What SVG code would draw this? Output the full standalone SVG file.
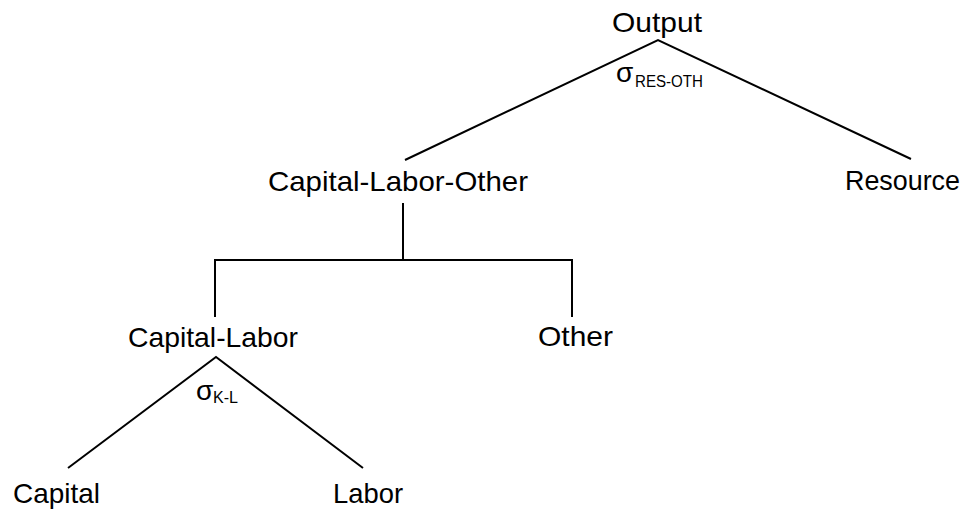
<svg xmlns="http://www.w3.org/2000/svg" width="969" height="515" viewBox="0 0 969 515">
<style>
  .lbl { font-family: "Liberation Sans", Arial, sans-serif; font-size: 28px; fill: #000; }
  .sig { font-family: "Liberation Sans", Arial, sans-serif; font-size: 28px; fill: #000; }
  .sub { font-family: "Liberation Sans", Arial, sans-serif; font-size: 16px; fill: #000; }
  .edge { stroke: #000; stroke-width: 2; fill: none; }
</style>
<rect width="969" height="515" fill="#fff"/>
<g id="connectors">
  <polyline class="edge" points="405,160 658,40 911,159"/>
  <line class="edge" x1="403" y1="203" x2="403" y2="261"/>
  <polyline class="edge" points="215,317 215,260 572,260 572,317"/>
  <polyline class="edge" points="68,468 216,357 363,468"/>
</g>
<g id="node-output">
  <text class="lbl" x="612" y="32" textLength="90" lengthAdjust="spacingAndGlyphs">Output</text>
</g>
<g id="label-res-oth">
  <text class="sig" x="616" y="82">σ</text>
  <text class="sub" x="635" y="87" textLength="68" lengthAdjust="spacingAndGlyphs">RES-OTH</text>
</g>
<g id="node-clo">
  <text class="lbl" x="268" y="191" textLength="260" lengthAdjust="spacingAndGlyphs">Capital-Labor-Other</text>
</g>
<g id="node-resource">
  <text class="lbl" x="845" y="190" textLength="115" lengthAdjust="spacingAndGlyphs">Resource</text>
</g>
<g id="node-capital-labor">
  <text class="lbl" x="128" y="347" textLength="170" lengthAdjust="spacingAndGlyphs">Capital-Labor</text>
</g>
<g id="node-other">
  <text class="lbl" x="538" y="346" textLength="75" lengthAdjust="spacingAndGlyphs">Other</text>
</g>
<g id="label-k-l">
  <text class="sig" x="196" y="400">σ</text>
  <text class="sub" x="213" y="403" textLength="25" lengthAdjust="spacingAndGlyphs">K-L</text>
</g>
<g id="node-capital">
  <text class="lbl" x="13" y="503" textLength="87" lengthAdjust="spacingAndGlyphs">Capital</text>
</g>
<g id="node-labor">
  <text class="lbl" x="333" y="503" textLength="70" lengthAdjust="spacingAndGlyphs">Labor</text>
</g>
</svg>
